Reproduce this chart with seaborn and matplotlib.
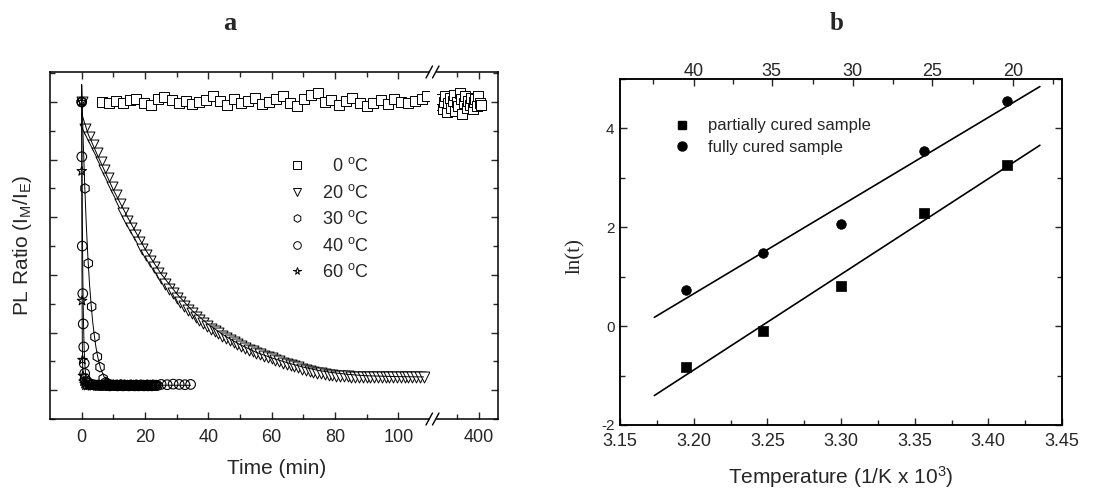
import matplotlib.pyplot as plt
import numpy as np
import pandas as pd
import seaborn as sns
from matplotlib.lines import Line2D
from matplotlib.ticker import MultipleLocator, FixedLocator

# ---- panel a: PL ratio (I_M/I_E) vs time (y in relative units)
t_0C = [6.3, 8.6, 10.7, 12.9, 15.2, 17.3, 19.6, 21.8, 24.0, 26.1,
        28.4, 30.6, 32.8, 35.0, 37.1, 39.4, 41.6, 43.7, 46.0, 48.2,
        50.3, 52.6, 54.8, 57.0, 59.1, 61.4, 63.6, 65.7, 68.0, 70.1,
        72.4, 74.6, 76.8, 78.9, 81.2, 83.4, 85.5, 87.8, 90.0, 92.1,
        94.4, 96.6, 98.7, 101.0, 103.1, 105.4, 107.6, 109.0]
v_0C = [1.000, 0.997, 1.002, 0.995, 1.006, 1.012, 0.996, 0.990, 1.012, 1.018,
        1.006, 0.998, 1.003, 0.994, 1.000, 1.008, 1.020, 1.005, 0.990, 1.012,
        0.997, 1.004, 1.015, 0.993, 1.000, 1.010, 1.022, 0.998, 0.987, 1.012,
        1.025, 1.030, 1.000, 1.008, 0.990, 1.004, 1.014, 0.996, 0.985, 0.998,
        1.006, 0.993, 1.010, 1.000, 0.997, 1.003, 1.012, 1.020]
# 0 C measured again after the axis break
t_0C_late = [356.0, 357.5, 359.2, 360.8, 362.3, 364.0, 365.6, 367.1, 368.8, 370.4,
             371.9, 373.6, 375.2, 376.7, 378.4, 380.0, 381.5, 383.2, 384.8, 386.3,
             388.0, 389.6, 391.1, 392.8, 394.4, 395.9, 397.6, 399.2, 400.7, 402.4]
v_0C_late = [0.990, 1.010, 0.975, 1.000, 1.020, 0.965, 0.995, 1.015, 0.980, 1.005,
             1.025, 0.970, 1.000, 0.985, 1.030, 1.010, 0.960, 0.995, 1.020, 0.980,
             1.005, 0.990, 1.015, 0.975, 1.000, 1.010, 0.985, 1.020, 0.995, 0.990]

t_20C = [0.0, 1.2, 2.4, 3.6, 4.8, 6.0, 7.2, 8.4, 9.6, 10.8,
         12.0, 13.2, 14.4, 15.6, 16.8, 18.0, 19.2, 20.4, 21.6, 22.8,
         24.0, 25.2, 26.4, 27.6, 28.8, 30.0, 31.2, 32.4, 33.6, 34.8,
         36.0, 37.2, 38.4, 39.6, 40.8, 42.0, 43.2, 44.4, 45.6, 46.8,
         48.0, 49.2, 50.4, 51.6, 52.8, 54.0, 55.2, 56.4, 57.6, 58.8,
         60.0, 61.2, 62.4, 63.6, 64.8, 66.0, 67.2, 68.4, 69.6, 70.8,
         72.0, 73.2, 74.4, 75.6, 76.8, 78.0, 79.2, 80.4, 81.6, 82.8,
         84.0, 85.2, 86.4, 87.6, 88.8, 90.0, 91.2, 92.4, 93.6, 94.8,
         96.0, 97.2, 98.4, 99.6, 100.8, 102.0, 103.2, 104.4, 105.6, 106.8,
         108.0]
v_20C = [1.000, 0.905, 0.878, 0.850, 0.822, 0.793, 0.765, 0.737, 0.705, 0.676,
         0.645, 0.615, 0.588, 0.562, 0.538, 0.514, 0.490, 0.468, 0.447, 0.427,
         0.407, 0.388, 0.370, 0.352, 0.336, 0.320, 0.305, 0.292, 0.279, 0.267,
         0.255, 0.244, 0.233, 0.223, 0.214, 0.205, 0.197, 0.189, 0.181, 0.174,
         0.167, 0.160, 0.154, 0.147, 0.141, 0.135, 0.130, 0.125, 0.120, 0.115,
         0.110, 0.105, 0.100, 0.096, 0.091, 0.087, 0.083, 0.079, 0.075, 0.071,
         0.068, 0.064, 0.061, 0.058, 0.055, 0.053, 0.051, 0.050, 0.049, 0.048,
         0.048, 0.047, 0.047, 0.046, 0.047, 0.046, 0.046, 0.045, 0.046, 0.046,
         0.045, 0.046, 0.045, 0.046, 0.045, 0.046, 0.045, 0.046, 0.045, 0.046,
         0.046]

t_30C = [0.0, 1.05, 2.1, 3.15, 4.2, 4.95, 5.8, 6.8,
         7.6, 8.0, 8.4, 8.8, 9.2, 9.6, 10.0, 10.4, 10.8, 11.2,
         11.6, 12.0, 12.4, 12.8, 13.2, 13.6, 14.0, 14.4, 14.8, 15.2,
         15.6, 16.0, 16.4, 16.8, 17.2, 17.6, 18.0, 18.4, 18.8, 19.2,
         19.6, 20.0, 20.4, 20.8, 21.2, 21.6, 22.0, 22.4, 22.8, 23.2,
         23.6]
v_30C = [1.0, 0.70, 0.44, 0.29, 0.185, 0.116, 0.08, 0.04,
         0.028, 0.024, 0.022, 0.020, 0.019, 0.018, 0.019, 0.017, 0.018, 0.019,
         0.017, 0.018, 0.020, 0.017, 0.018, 0.019, 0.017, 0.018, 0.016, 0.018,
         0.019, 0.017, 0.018, 0.017, 0.019, 0.018, 0.017, 0.018, 0.019, 0.017,
         0.018, 0.016, 0.018, 0.019, 0.017, 0.018, 0.017, 0.019, 0.018, 0.017,
         0.018]

t_40C = [0.0, 0.05, 0.2, 0.35, 0.5, 0.65, 0.8, 0.95, 1.1,
         1.7, 2.3, 2.9, 3.5, 4.1, 4.7, 5.3, 5.9, 6.5, 7.1,
         7.7, 8.3, 8.9, 9.5, 10.1, 10.7, 11.3, 11.9, 12.5, 13.1,
         13.7, 14.3, 14.9, 15.5, 16.1, 16.7, 17.3, 17.9, 18.5, 19.1,
         19.7, 20.3, 20.9, 21.5, 22.1, 22.7, 23.3, 23.9,
         25.1, 27.0, 28.9, 30.8, 32.6, 34.4]
v_40C = [1.0, 0.81, 0.50, 0.335, 0.23, 0.15, 0.093, 0.058, 0.04,
         0.030, 0.024, 0.020, 0.019, 0.018, 0.017, 0.018, 0.016, 0.017, 0.018,
         0.016, 0.017, 0.015, 0.016, 0.017, 0.016, 0.015, 0.016, 0.017, 0.015,
         0.016, 0.016, 0.015, 0.017, 0.016, 0.015, 0.016, 0.015, 0.016, 0.017,
         0.015, 0.016, 0.015, 0.016, 0.015, 0.016, 0.017, 0.016,
         0.020, 0.019, 0.021, 0.020, 0.019, 0.020]

t_60C = [0.0, 0.03, 0.12, 0.25, 0.4, 0.6, 0.9,
         1.2, 1.8, 2.4, 3.0, 3.6, 4.2, 4.8, 5.4, 6.0, 6.6, 7.2, 7.8, 8.4, 9.0, 9.6, 10.2]
v_60C = [1.0, 0.76, 0.31, 0.105, 0.05, 0.03, 0.022,
         0.016, 0.015, 0.016, 0.014, 0.015, 0.016, 0.015, 0.014, 0.015, 0.016,
         0.015, 0.014, 0.015, 0.015, 0.014, 0.015]

# fitted decay curves as drawn in the figure
fit_t_20C = [0, 2, 5, 10, 15, 20, 25, 30, 35, 40, 45, 50, 55, 60, 65, 70, 75, 80, 85, 90, 100, 108]
fit_v_20C = [0.96, 0.89, 0.815, 0.695, 0.59, 0.49, 0.405, 0.335, 0.275, 0.228, 0.19,
             0.158, 0.132, 0.112, 0.095, 0.08, 0.068, 0.06, 0.054, 0.05, 0.047, 0.046]
fit_t_30C = [0, 0.5, 1.0, 1.5, 2.0, 2.5, 3.0, 3.5, 4.0, 4.5, 5.0, 5.5, 6.0, 7.0, 8.0, 10.0, 23.6]
fit_v_30C = [1.06, 0.86, 0.70, 0.565, 0.455, 0.365, 0.295, 0.235, 0.19, 0.15, 0.12,
             0.095, 0.075, 0.048, 0.032, 0.02, 0.018]
fit_t_40C = [0, 0.1, 0.2, 0.3, 0.4, 0.5, 0.6, 0.7, 0.8, 1.0, 1.2, 1.5, 2.0, 3.0, 34.4]
fit_v_40C = [1.06, 0.80, 0.61, 0.47, 0.365, 0.285, 0.225, 0.18, 0.14, 0.09, 0.06,
             0.038, 0.024, 0.018, 0.017]
fit_t_60C = [0, 0.03, 0.06, 0.1, 0.15, 0.2, 0.3, 0.45, 0.7, 1.0, 10.2]
fit_v_60C = [1.06, 0.80, 0.60, 0.42, 0.27, 0.18, 0.09, 0.045, 0.025, 0.018, 0.015]

# ---- panel b: Arrhenius plot
inv_T = [3.195, 3.247, 3.300, 3.356, 3.413]
ln_t_partial = [-0.82, -0.09, 0.82, 2.28, 3.26]
ln_t_full = [0.74, 1.48, 2.07, 3.54, 4.56]
top_tick_pos = [3.200, 3.253, 3.308, 3.362, 3.417]
top_tick_lbl = ['40', '35', '30', '25', '20']
top_minor_pos = [3.1724, 3.2267, 3.281, 3.3353, 3.3896, 3.4439]

sns.set_style('ticks')
plt.rcParams['font.family'] = ['Liberation Sans', 'DejaVu Sans']
plt.rcParams['mathtext.fontset'] = 'custom'
plt.rcParams['mathtext.rm'] = 'Liberation Sans'
plt.rcParams['mathtext.it'] = 'Liberation Sans:italic'
plt.rcParams['axes.unicode_minus'] = False
plt.rcParams['axes.linewidth'] = 1.1
plt.rcParams['axes.edgecolor'] = 'black'

W, H = 1094, 490
fig = plt.figure(figsize=(W / 100, H / 100), dpi=100)


def box(l, t, r, b):
    return [l / W, 1 - b / H, (r - l) / W, (b - t) / H]


ax1 = fig.add_axes(box(50, 72, 429, 419))
ax2 = fig.add_axes(box(437, 72, 498, 419), sharey=ax1)
axb = fig.add_axes(box(620, 79, 1062, 425))

mk = dict(facecolor='white', edgecolor='black', linewidth=0.7, legend=False)
hollow = dict(facecolor='none', edgecolor='black', linewidth=0.8, legend=False)
ln = dict(color='black', linewidth=0.7, estimator=None, sort=False, legend=False, zorder=4)

# ---- panel a
sns.scatterplot(x=t_0C, y=v_0C, marker='s', s=55, ax=ax1, zorder=2, **mk)
sns.scatterplot(x=t_0C_late, y=v_0C_late, marker='s', s=55, ax=ax2, zorder=2, **mk)
sns.scatterplot(x=t_20C, y=v_20C, marker='v', s=62, ax=ax1, zorder=2, **mk)
sns.scatterplot(x=t_60C, y=v_60C, marker='*', s=50, ax=ax1, zorder=2, **hollow)
sns.scatterplot(x=t_30C, y=v_30C, marker='h', s=48, ax=ax1, zorder=2, **hollow)
sns.scatterplot(x=t_40C, y=v_40C, marker='o', s=48, ax=ax1, zorder=2, **hollow)
for ft, fv in [(fit_t_20C, fit_v_20C), (fit_t_30C, fit_v_30C),
               (fit_t_40C, fit_v_40C), (fit_t_60C, fit_v_60C)]:
    sns.lineplot(x=ft, y=fv, ax=ax1, **ln)

ax1.set_xlim(-10, 109.7)
ax2.set_xlim(353, 421.3)
ax1.set_ylim(-0.1, 1.104)
ax1.xaxis.set_major_locator(FixedLocator([0, 20, 40, 60, 80, 100]))
ax1.xaxis.set_minor_locator(FixedLocator([10, 30, 50, 70, 90]))
ax2.xaxis.set_major_locator(FixedLocator([400]))
ax2.xaxis.set_minor_locator(FixedLocator([375]))
ax1.yaxis.set_major_locator(MultipleLocator(0.2))
ax1.yaxis.set_minor_locator(MultipleLocator(0.1))

ax1.spines['right'].set_visible(False)
ax2.spines['left'].set_visible(False)
ax1.tick_params(which='both', direction='in', top=True, bottom=True, left=True, right=False,
                labelleft=False, labelsize=13, pad=7, width=1.0)
ax1.tick_params(which='major', length=5)
ax1.tick_params(which='minor', length=3.5)
ax2.tick_params(which='both', direction='in', top=True, bottom=True, left=False, right=True,
                labelleft=False, labelright=False, labelsize=13, pad=7, width=1.0)
ax2.tick_params(which='major', length=5)
ax2.tick_params(which='minor', length=3.5)
ax1.set_xlabel('Time (min)', fontsize=15)
ax1.xaxis.set_label_coords((277 - 50) / 379, (419 - 468) / 347)
ax1.xaxis.label.set_va('center')
ax1.set_ylabel(r'PL Ratio (I$_{\rm M}$/I$_{\rm E}$)', fontsize=15)
ax1.yaxis.set_label_coords((22 - 50) / 379, (419 - 245) / 347)
ax1.yaxis.label.set_va('center')

# axis break marks
for yb in (72, 419):
    for x0 in (426, 432.5):
        fig.add_artist(Line2D([x0 / W, (x0 + 6.5) / W], [1 - (yb + 6) / H, 1 - (yb - 6) / H],
                              color='black', lw=1.0))

labels_a = [r'  0 $^{\rm o}$C', r'20 $^{\rm o}$C', r'30 $^{\rm o}$C', r'40 $^{\rm o}$C', r'60 $^{\rm o}$C']
markers_a = ['s', 'v', 'h', 'o', '*']
handles_a = [Line2D([], [], ls='', marker=m, ms=5.5, mfc='white', mec='black', mew=0.7)
             for m in markers_a]
ax1.legend(handles_a, labels_a, loc='upper left', bbox_to_anchor=(0.627, 0.754), frameon=False,
           fontsize=13, handlelength=1.0, handletextpad=0.9, labelspacing=0.47,
           borderpad=0, borderaxespad=0)

# ---- panel b
axb.set_xlim(3.1733, 3.435)
sns.regplot(x=inv_T, y=ln_t_full, ax=axb, ci=None, scatter=False, truncate=False,
            line_kws=dict(color='black', lw=1.2))
sns.regplot(x=inv_T, y=ln_t_partial, ax=axb, ci=None, scatter=False, truncate=False,
            line_kws=dict(color='black', lw=1.2))
sns.scatterplot(x=inv_T, y=ln_t_partial, ax=axb, marker='s', s=42, color='black',
                edgecolor='black', linewidth=0.5, zorder=3, legend=False)
sns.scatterplot(x=inv_T, y=ln_t_full, ax=axb, marker='o', s=48, color='black',
                edgecolor='black', linewidth=0.5, zorder=3, legend=False)
axb.set_xlim(3.15, 3.45)
axb.set_ylim(-2, 5)
axb.xaxis.set_major_locator(MultipleLocator(0.05))
axb.xaxis.set_minor_locator(MultipleLocator(0.025))
axb.xaxis.set_major_formatter(lambda v, p: f'{v:.2f}')
axb.yaxis.set_major_locator(MultipleLocator(2))
axb.yaxis.set_minor_locator(MultipleLocator(1))
axb.tick_params(which='both', direction='in', top=False, right=True, labelsize=13, width=1.0)
axb.tick_params(axis='x', pad=6)
axb.tick_params(axis='y', which='both', left=True, pad=4, labelsize=11)
axb.tick_params(which='major', length=5)
axb.tick_params(which='minor', length=3.5)

axt = axb.twiny()
axt.set_xlim(axb.get_xlim())
axt.set_xticks(top_tick_pos, top_tick_lbl)
axt.xaxis.set_minor_locator(FixedLocator(top_minor_pos))
axt.tick_params(which='both', direction='in', labelsize=13, pad=-1, width=1.0)
axt.tick_params(which='major', length=5)
axt.tick_params(which='minor', length=3.5)

axb.set_xlabel(r'Temperature (1/K x 10$^{3}$)', fontsize=15)
axb.xaxis.set_label_coords(0.5, (425 - 476.7) / 346)
axb.xaxis.label.set_va('center')
axb.set_ylabel('ln(t)', fontsize=15, family='Liberation Serif')
axb.yaxis.set_label_coords((575 - 620) / 442, (425 - 256) / 346)
axb.yaxis.label.set_va('center')

handles_b = [Line2D([], [], ls='', marker='s', ms=6, mfc='black', mec='black'),
             Line2D([], [], ls='', marker='o', ms=6.5, mfc='black', mec='black')]
axb.legend(handles_b, ['partially cured sample', 'fully cured sample'], loc='upper left',
           bbox_to_anchor=(0.121, 0.886), frameon=False, fontsize=12, handlelength=1.0,
           handletextpad=1.05, labelspacing=0.40, borderpad=0, borderaxespad=0)

fig.text(230 / W, 1 - 23 / H, 'a', ha='center', va='center', family='Liberation Serif',
         weight='bold', fontsize=19)
fig.text(837 / W, 1 - 23 / H, 'b', ha='center', va='center', family='Liberation Serif',
         weight='bold', fontsize=18)

fig.savefig('out.png', dpi=100)
